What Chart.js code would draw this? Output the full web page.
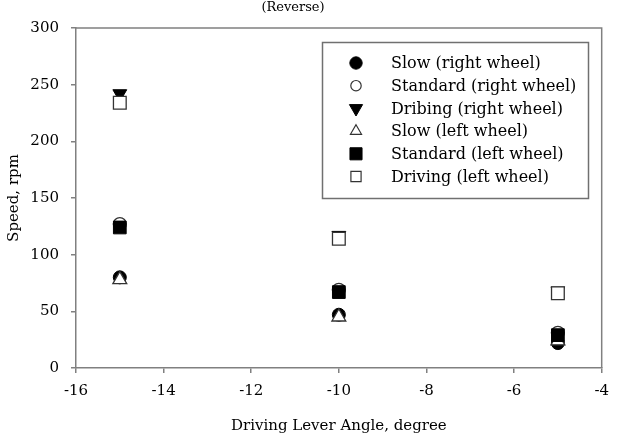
<!DOCTYPE html>
<html>
<head>
<meta charset="utf-8">
<title>Speed vs Driving Lever Angle (Reverse)</title>
<script src="https://cdn.jsdelivr.net/npm/chart.js@4/dist/chart.umd.min.js"></script>
<style>
  html, body { margin: 0; padding: 0; background: #fff; }
  #wrap { width: 618px; height: 439px; }
</style>
</head>
<body>
<div id="wrap"><canvas id="speed-chart" width="618" height="439"></canvas></div>
<script>
// lever angles (degree) and measured speeds (rpm)
const angles = [-15, -10, -5];
const slowRight = [80, 47, 22];
const standardRight = [127, 69, 31];
const dribingRight = [242, 117, 68];
const slowLeft = [78, 45, 24];
const standardLeft = [124, 67, 29];
const drivingLeft = [234, 114, 66];

const seriesNames = [
  'Slow (right wheel)',
  'Standard (right wheel)',
  'Dribing (right wheel)',
  'Slow (left wheel)',
  'Standard (left wheel)',
  'Driving (left wheel)'
];
const xTicks = [-16, -14, -12, -10, -8, -6, -4];
const yTicks = [0, 50, 100, 150, 200, 250, 300];

const FONT = '"DejaVu Serif", "Liberation Serif", serif';
const AXIS = '#808080';
const INK = '#000';

// marker look per series: [pointStyle, rotation, radius, filled]
const markers = [
  ['circle', 0, 6.5, true],
  ['circle', 0, 6.5, false],
  ['triangle', 180, 8, true],
  ['triangle', 0, 8, false],
  ['rect', 0, 9, true],
  ['rect', 0, 9, false]
];
const seriesValues = [slowRight, standardRight, dribingRight, slowLeft, standardLeft, drivingLeft];

function pts(vals) {
  return angles.map((a, i) => ({ x: a, y: vals[i] }));
}

const datasets = seriesValues.map((vals, i) => {
  const [style, rot, r, filled] = markers[i];
  return {
    label: seriesNames[i],
    data: pts(vals),
    pointStyle: style,
    rotation: rot,
    pointRadius: r,
    pointHoverRadius: r,
    pointBackgroundColor: filled ? '#000' : '#fff',
    pointBorderColor: filled ? '#000' : '#333',
    pointBorderWidth: filled ? 1 : 1.3,
    showLine: false,
    order: -i // later series sit on top
  };
});

function marker(ctx, i, x, y) {
  const [style, rot, r, filled] = markers[i];
  ctx.save();
  ctx.fillStyle = filled ? '#000' : '#fff';
  ctx.strokeStyle = filled ? '#000' : '#333';
  ctx.lineWidth = filled ? 1 : 1.2;
  const scale = filled ? 0.95 : 0.8;
  Chart.helpers.drawPoint(ctx, { pointStyle: style, rotation: rot, radius: r * scale, borderWidth: ctx.lineWidth }, x, y);
  ctx.restore();
}

const framePlugin = {
  id: 'frame',
  afterDraw(chart) {
    const { ctx, chartArea: a } = chart;
    ctx.save();
    // top and right frame lines
    ctx.strokeStyle = AXIS;
    ctx.lineWidth = 1.5;
    ctx.beginPath();
    ctx.moveTo(a.left, a.top);
    ctx.lineTo(a.right, a.top);
    ctx.lineTo(a.right, a.bottom);
    ctx.stroke();

    // title
    ctx.fillStyle = INK;
    ctx.font = '13px ' + FONT;
    ctx.textAlign = 'center';
    ctx.textBaseline = 'middle';
    ctx.fillText('(Reverse)', 293, 8);

    // legend box
    ctx.strokeStyle = '#707070';
    ctx.lineWidth = 1.5;
    ctx.strokeRect(322.5, 42.5, 266, 156);
    ctx.font = '16px ' + FONT;
    ctx.textAlign = 'left';
    seriesNames.forEach((name, i) => {
      const y = 63 + i * 22.7;
      marker(ctx, i, 356, y);
      ctx.fillStyle = INK;
      ctx.fillText(name, 391, y + 1);
    });
    ctx.restore();
  }
};

new Chart(document.getElementById('speed-chart'), {
  type: 'scatter',
  data: { datasets },
  options: {
    responsive: false,
    animation: false,
    events: [],
    layout: { padding: { top: 28, right: 11, left: 0, bottom: 0 } },
    plugins: {
      legend: { display: false },
      tooltip: { enabled: false },
      title: { display: false }
    },
    scales: {
      x: {
        type: 'linear',
        min: -16,
        max: -4,
        afterFit(s) { s.height = 71; },
        afterBuildTicks(s) { s.ticks = xTicks.map(v => ({ value: v })); },
        grid: { drawOnChartArea: false, drawTicks: true, tickLength: 5, color: AXIS, lineWidth: 1.5 },
        border: { display: true, color: AXIS, width: 1.5 },
        ticks: { color: INK, font: { family: FONT, size: 15 }, padding: 9, maxRotation: 0 },
        title: { display: true, text: 'Driving Lever Angle, degree', color: INK, font: { family: FONT, size: 15 }, padding: { top: 0, bottom: 4 } }
      },
      y: {
        type: 'linear',
        min: 0,
        max: 300,
        afterFit(s) { s.width = 76; },
        afterBuildTicks(s) { s.ticks = yTicks.map(v => ({ value: v })); },
        grid: { drawOnChartArea: false, drawTicks: true, tickLength: 5, color: AXIS, lineWidth: 1.5 },
        border: { display: true, color: AXIS, width: 1.5 },
        ticks: { color: INK, font: { family: FONT, size: 15 }, padding: 12 },
        title: { display: true, text: 'Speed, rpm', color: INK, font: { family: FONT, size: 15 }, padding: { top: 5, bottom: 0 } }
      }
    }
  },
  plugins: [framePlugin]
});
</script>
</body>
</html>
